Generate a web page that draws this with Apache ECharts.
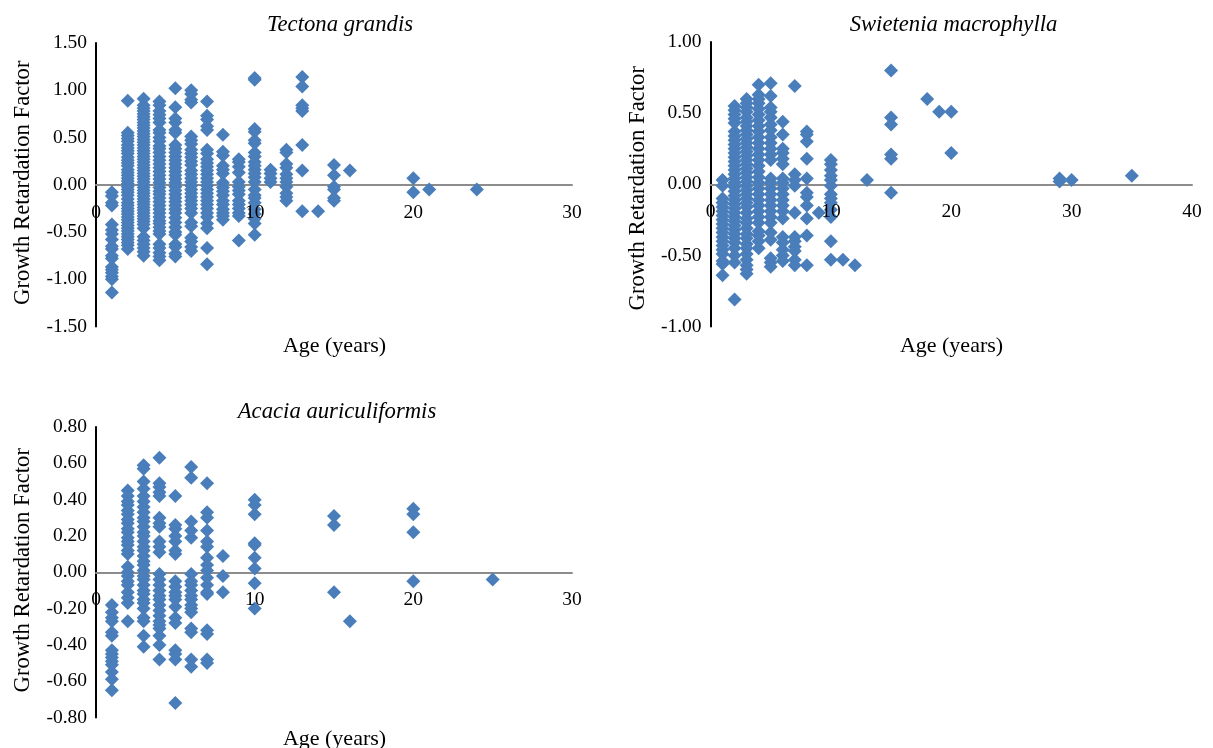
<!DOCTYPE html>
<html><head><meta charset="utf-8">
<style>html,body{margin:0;padding:0;background:#fff}#c{width:1213px;height:748px}</style>
<script src="https://cdn.jsdelivr.net/npm/echarts@6/dist/echarts.min.js"></script>
</head><body><div id="c"></div>
<script>
const yName = 'Growth Retardation Factor';
const xName = 'Age (years)';
const titles = ['Tectona grandis', 'Swietenia macrophylla', 'Acacia auriculiformis'];

const tectonaAges = [1,2,3,4,5,6,7,8,9,10,11,12,13,14,15,16,20,21,24];
const tectonaValues = [
 [-0.08,-0.12,-0.19,-0.22,-0.42,-0.48,-0.52,-0.58,-0.65,-0.68,-0.75,-0.78,-0.87,-0.90,-0.93,-0.97,-1.00,-1.14],
 [0.89,0.55,0.52,0.49,0.46,0.42,0.39,0.36,0.33,0.29,0.26,0.23,0.20,0.16,0.13,0.10,0.07,0.04,0.01,-0.02,-0.05,-0.08,-0.11,-0.15,-0.19,-0.22,-0.25,-0.28,-0.31,-0.34,-0.37,-0.40,-0.43,-0.46,-0.49,-0.52,-0.55,-0.58,-0.61,-0.64,-0.68],
 [0.91,0.84,0.81,0.78,0.75,0.72,0.69,0.66,0.63,0.60,0.57,0.54,0.51,0.48,0.45,0.42,0.39,0.36,0.33,0.30,0.27,0.24,0.21,0.18,0.15,0.12,0.09,0.06,0.03,0.00,-0.03,-0.06,-0.09,-0.12,-0.15,-0.18,-0.21,-0.24,-0.27,-0.30,-0.33,-0.36,-0.39,-0.42,-0.46,-0.55,-0.59,-0.63,-0.67,-0.71,-0.75],
 [0.88,0.84,0.78,0.74,0.70,0.66,0.58,0.55,0.50,0.46,0.41,0.38,0.34,0.30,0.26,0.22,0.18,0.14,0.10,0.06,0.02,-0.03,-0.07,-0.10,-0.14,-0.18,-0.22,-0.26,-0.30,-0.34,-0.38,-0.41,-0.45,-0.49,-0.52,-0.63,-0.67,-0.72,-0.76,-0.80],
 [1.02,0.82,0.70,0.66,0.58,0.55,0.42,0.38,0.34,0.30,0.26,0.22,0.18,0.14,0.10,0.06,0.02,-0.02,-0.06,-0.10,-0.14,-0.18,-0.22,-0.26,-0.30,-0.35,-0.40,-0.45,-0.50,-0.53,-0.63,-0.66,-0.73,-0.76],
 [1.00,0.96,0.90,0.87,0.51,0.47,0.43,0.37,0.33,0.29,0.25,0.21,0.15,0.11,0.07,0.03,-0.01,-0.05,-0.09,-0.13,-0.17,-0.21,-0.25,-0.30,-0.40,-0.44,-0.56,-0.60,-0.66,-0.70],
 [0.88,0.73,0.69,0.62,0.58,0.37,0.33,0.27,0.23,0.19,0.15,0.11,0.07,0.03,-0.01,-0.05,-0.09,-0.13,-0.17,-0.21,-0.25,-0.30,-0.34,-0.41,-0.46,-0.67,-0.84],
 [0.53,0.35,0.31,0.20,0.16,0.12,0.02,-0.03,-0.07,-0.11,-0.17,-0.21,-0.26,-0.30,-0.33,-0.37],
 [0.27,0.24,0.19,0.13,0.03,-0.02,-0.06,-0.10,-0.17,-0.21,-0.25,-0.30,-0.33,-0.59],
 [1.13,1.11,0.59,0.56,0.47,0.44,0.34,0.30,0.24,0.20,0.16,0.12,0.08,0.03,-0.05,-0.11,-0.14,-0.19,-0.26,-0.31,-0.36,-0.41,-0.53],
 [0.16,0.12,0.07,0.03],
 [0.37,0.34,0.22,0.18,0.11,0.07,0.03,-0.02,-0.09,-0.13,-0.17],
 [1.14,1.04,0.84,0.81,0.78,0.42,0.15,-0.28],
 [-0.28],
 [0.21,0.10,-0.02,-0.05,-0.14,-0.17],
 [0.15],
 [0.07,-0.08],
 [-0.05],
 [-0.05]
];

const swieteniaAges = [1,2,3,4,5,6,7,8,9,10,11,12,13,15,18,19,20,29,30,35];
const swieteniaValues = [
 [0.03,-0.01,-0.10,-0.13,-0.16,-0.19,-0.22,-0.25,-0.28,-0.31,-0.34,-0.37,-0.40,-0.43,-0.46,-0.49,-0.54,-0.56,-0.64],
 [0.55,0.52,0.49,0.46,0.43,0.37,0.34,0.31,0.28,0.25,0.22,0.19,0.16,0.13,0.10,0.07,0.04,0.01,-0.02,-0.05,-0.08,-0.11,-0.14,-0.17,-0.20,-0.23,-0.26,-0.29,-0.32,-0.35,-0.38,-0.41,-0.45,-0.50,-0.55,-0.81],
 [0.60,0.57,0.54,0.51,0.47,0.44,0.41,0.38,0.35,0.32,0.29,0.26,0.23,0.20,0.17,0.14,0.11,0.08,0.05,0.02,-0.01,-0.04,-0.07,-0.10,-0.13,-0.16,-0.20,-0.24,-0.27,-0.31,-0.35,-0.38,-0.42,-0.45,-0.49,-0.53,-0.57,-0.60,-0.63],
 [0.70,0.63,0.60,0.57,0.53,0.49,0.45,0.41,0.37,0.33,0.29,0.25,0.21,0.17,0.13,0.09,0.05,0.01,-0.03,-0.07,-0.11,-0.15,-0.19,-0.23,-0.27,-0.33,-0.36,-0.40,-0.45],
 [0.71,0.62,0.54,0.51,0.47,0.42,0.38,0.33,0.29,0.25,0.21,0.17,0.04,0.01,-0.03,-0.07,-0.11,-0.15,-0.19,-0.23,-0.27,-0.34,-0.39,-0.52,-0.55,-0.58],
 [0.44,0.35,0.25,0.22,0.18,0.14,0.04,0.01,-0.03,-0.07,-0.11,-0.15,-0.19,-0.24,-0.37,-0.41,-0.46,-0.50,-0.54],
 [0.69,0.07,0.03,-0.01,-0.20,-0.37,-0.40,-0.44,-0.47,-0.53,-0.57],
 [0.37,0.35,0.30,0.18,0.04,-0.06,-0.09,-0.15,-0.24,-0.36,-0.57],
 [-0.20],
 [0.17,0.14,0.10,0.06,0.03,-0.01,-0.07,-0.10,-0.13,-0.18,-0.23,-0.40,-0.53],
 [-0.53],
 [-0.57],
 [0.03],
 [0.80,0.47,0.42,0.21,0.18,-0.06],
 [0.60],
 [0.51],
 [0.51,0.22],
 [0.04,0.02],
 [0.03],
 [0.06]
];

const acaciaAges = [1,2,3,4,5,6,7,8,10,15,16,20,25];
const acaciaValues = [
 [-0.18,-0.22,-0.25,-0.27,-0.33,-0.35,-0.43,-0.45,-0.47,-0.49,-0.51,-0.55,-0.59,-0.65],
 [0.45,0.42,0.39,0.37,0.34,0.32,0.29,0.27,0.24,0.22,0.19,0.17,0.15,0.12,0.10,0.03,0.00,-0.02,-0.05,-0.07,-0.11,-0.14,-0.17,-0.27],
 [0.59,0.57,0.50,0.46,0.42,0.39,0.36,0.33,0.30,0.28,0.25,0.22,0.20,0.17,0.14,0.12,0.09,0.06,0.04,0.01,-0.02,-0.04,-0.07,-0.10,-0.12,-0.15,-0.17,-0.20,-0.25,-0.27,-0.35,-0.41],
 [0.63,0.49,0.47,0.44,0.42,0.30,0.27,0.25,0.17,0.14,0.11,-0.01,-0.04,-0.07,-0.10,-0.13,-0.15,-0.18,-0.21,-0.24,-0.27,-0.29,-0.31,-0.35,-0.40,-0.48],
 [0.42,0.26,0.24,0.20,0.17,0.12,0.10,-0.05,-0.08,-0.11,-0.13,-0.15,-0.19,-0.25,-0.28,-0.43,-0.45,-0.48,-0.72],
 [0.58,0.52,0.28,0.23,0.19,-0.01,-0.05,-0.07,-0.10,-0.13,-0.15,-0.18,-0.20,-0.22,-0.31,-0.33,-0.48,-0.52],
 [0.49,0.33,0.30,0.23,0.17,0.14,0.08,0.04,0.01,-0.03,-0.07,-0.11,-0.12,-0.32,-0.34,-0.48,-0.50],
 [0.09,-0.02,-0.11],
 [0.40,0.37,0.32,0.16,0.15,0.08,0.02,-0.06,-0.20],
 [0.31,0.26,-0.11],
 [-0.27],
 [0.35,0.32,0.22,-0.05],
 [-0.04]
];

const panels = [
 {ages:tectonaAges, vals:tectonaValues, xMax:30, xStep:10, yMin:-1.5, yMax:1.5, yStep:0.5, left:96, top:43, width:476, height:283.5, titleX:340, titleY:14, nameX:334.5, nameY:335, gap:61, namePad:[0,0,0,4]},
 {ages:swieteniaAges, vals:swieteniaValues, xMax:40, xStep:10, yMin:-1, yMax:1, yStep:0.5, left:710.5, top:42, width:481.5, height:284.5, titleX:953.5, titleY:14, nameX:951.5, nameY:335, gap:61, namePad:[0,8,0,0]},
 {ages:acaciaAges, vals:acaciaValues, xMax:30, xStep:10, yMin:-0.8, yMax:0.8, yStep:0.2, left:96, top:427, width:476, height:290.5, titleX:337, titleY:401, nameX:334.5, nameY:728, gap:61, namePad:[0,0,0,4]}
];

const font = '"Liberation Serif","Times New Roman",serif';
const grid=[], xAxis=[], yAxis=[], series=[], title=[];
panels.forEach((p,i)=>{
  grid.push({left:p.left, top:p.top, width:p.width, height:p.height});
  const base = {type:'value', gridIndex:i, min:0, max:p.xMax, interval:p.xStep, splitLine:{show:false}, axisTick:{show:false}};
  const zeroLift = p.height * (-p.yMin) / (p.yMax - p.yMin);
  // line sits under the marks, labels over them
  xAxis.push({...base, position:'bottom', z:0, axisLine:{onZero:true, lineStyle:{color:'#8c8c8c', width:2}}, axisLabel:{show:false}});
  xAxis.push({...base, position:'bottom', offset:-zeroLift, z:6, axisLine:{show:false, onZero:false}, axisLabel:{show:true, color:'#000', fontFamily:font, fontSize:19.5, margin:18, showMaxLabel:true, showMinLabel:true}});
  yAxis.push({type:'value', gridIndex:i, min:p.yMin, max:p.yMax, interval:p.yStep, splitLine:{show:false}, axisTick:{show:false},
    axisLine:{show:true, onZero:false, lineStyle:{color:'#000', width:2}},
    axisLabel:{color:'#000', fontFamily:font, fontSize:19.5, margin:9, formatter:v=>v.toFixed(2)},
    name:yName, nameLocation:'middle', nameGap:p.gap, nameRotate:90, nameTextStyle:{color:'#000', fontFamily:font, fontSize:22.7, padding:p.namePad}});
  const pts=[];
  p.ages.forEach((a,k)=>p.vals[k].forEach(v=>pts.push([a,v])));
  series.push({type:'scatter', xAxisIndex:i*2, yAxisIndex:i, symbol:'diamond', symbolSize:14, z:2, silent:true, animation:false,
    itemStyle:{color:'#4a7ebb', opacity:1}, data:pts});
  title.push({text:titles[i], left:p.titleX, top:p.titleY, padding:0, textAlign:'center', textStyle:{fontFamily:font, fontSize:22.7, fontStyle:'italic', fontWeight:'normal', color:'#000'}});
  title.push({text:xName, left:p.nameX, top:p.nameY, padding:0, textAlign:'center', textStyle:{fontFamily:font, fontSize:22, fontWeight:'normal', color:'#000'}});
});
const chart = echarts.init(document.getElementById('c'), null, {renderer:'canvas'});
chart.setOption({animation:false, backgroundColor:'#fff', title, grid, xAxis, yAxis, series});
</script></body></html>
